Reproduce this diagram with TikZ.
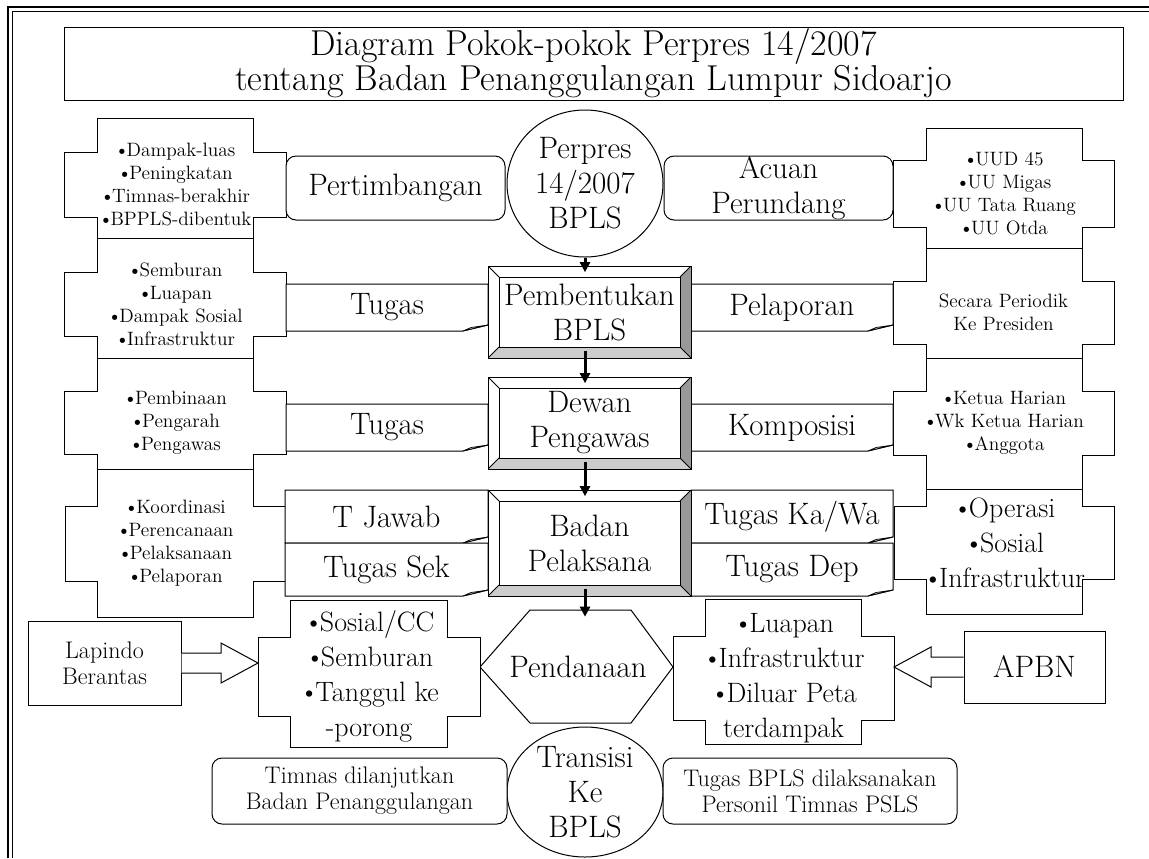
\documentclass[tikz,border=0pt]{standalone}
\usepackage{fontspec}
\usetikzlibrary{calc,arrows.meta,shapes.geometric}

\definecolor{BevelSide}{RGB}{153,153,153}
\definecolor{BevelBase}{RGB}{204,204,204}
\definecolor{FoldGray}{RGB}{190,190,190}

\newcommand{\fbig}{\fontsize{27}{26.25}\selectfont}
\newcommand{\fmid}{\fontsize{23.25}{26.25}\selectfont}
\newcommand{\fbul}{\fontsize{21}{26.25}\selectfont}
\newcommand{\fnote}{\fontsize{18}{19.5}\selectfont}
\newcommand{\fsmall}{\fontsize{14.5}{17.25}\selectfont}
\newcommand{\bul}{\textbullet\kern-0.14em}

% cross-shaped list box: name, wideL, narrowL, narrowR, wideR, top, wideT, wideB, bottom
\newcommand{\crossbox}[9]{%
  \draw[outline, fill=white] (#3,#6) -- (#4,#6) -- (#4,#7) -- (#5,#7) -- (#5,#8) -- (#4,#8)
    -- (#4,#9) -- (#3,#9) -- (#3,#8) -- (#2,#8) -- (#2,#7) -- (#3,#7) -- cycle;
  \coordinate (#1-c) at ({(#2+#5)/2},{(#7+#8)/2});
  \coordinate (#1-w) at (#2,{(#7+#8)/2});
  \coordinate (#1-e) at (#5,{(#7+#8)/2});}

% box with a folded lower right corner: name, x1, y1, x2, y2, text
\newcommand{\foldbox}[6]{%
  \draw[outline, fill=white] (#2,#3) -- (#4,#3) -- (#4,#5-6) -- (#4-25,#5) -- (#2,#5) -- cycle;
  \filldraw[outline, fill=FoldGray, line width=0.5pt] (#4-25,#5) -- (#4,#5-6) -- (#4-17,#5-3.5) -- cycle;
  \node[midtext] (#1) at ({(#2+#4)/2},{(#3+#5)/2}) {#6};}

\begin{document}
\begin{tikzpicture}[
  x=0.75pt, y=-0.75pt,
  outline/.style={draw=black, line width=0.75pt},
  plainbox/.style={rectangle, outline, fill=white, align=center, inner sep=0pt},
  rbox/.style={plainbox, rounded corners=7.5pt},
  oval/.style={ellipse, outline, fill=white, align=center, inner sep=0pt, font=\fmid},
  midtext/.style={align=center, inner sep=0pt, font=\fmid},
  listtext/.style={align=center, inner sep=0pt, font=\fsmall},
  bultext/.style={align=center, inner sep=0pt, font=\fbul},
  bevel/.style={plainbox, minimum width=152.25pt, font=\fmid,
    path picture={
      \coordinate (bsw) at (path picture bounding box.south west);
      \coordinate (bse) at (path picture bounding box.south east);
      \coordinate (bne) at (path picture bounding box.north east);
      \coordinate (bnw) at (path picture bounding box.north west);
      \fill[BevelSide] (bse) -- (bne) -- ($(bne)+(-11,11)$) -- ($(bse)+(-11,-11)$) -- cycle;
      \fill[BevelBase] (bsw) -- (bse) -- ($(bse)+(-11,-11)$) -- ($(bsw)+(11,-11)$) -- cycle;
      \draw[line width=0.75pt] ($(bsw)+(11,-11)$) rectangle ($(bne)+(-11,11)$);
      \draw[line width=0.75pt] (bsw) -- ++(11,-11) (bse) -- ++(-11,-11)
        (bne) -- ++(-11,11) (bnw) -- ++(11,11);
    }},
  flow/.style={-{Triangle[length=7.5pt,width=7.5pt]}, line width=2.25pt, shorten >=-5pt},
  blockarr/.style={outline, fill=white}
]
\useasboundingbox (0,0) rectangle (1149,858);

% page frame
\draw[line width=1.1pt] (8,858) -- (8,7) -- (1149,7);
\draw[line width=0.75pt] (12.5,858) -- (12.5,11.5) -- (1149,11.5);

\node[plainbox, minimum width=794.25pt, minimum height=54.75pt, font=\fbig] (judul) at (593.5,63.5)
  {Diagram Pokok-pokok Perpres 14/2007\\tentang Badan Penanggulangan Lumpur Sidoarjo};

% left column
\crossbox{dasar}{64}{97}{253}{286}{118}{152}{217}{238}
\crossbox{tugasa}{64}{97}{253}{286}{238}{272}{336}{358}
\crossbox{tugasb}{64}{97}{253}{286}{358}{391}{454}{469}
\crossbox{jawab}{65}{97}{253}{285}{469}{506}{581}{617}
\node[listtext] (dasarlist) at (dasar-c)
  {\bul Dampak-luas\\\bul Peningkatan\\\bul Timnas-berakhir\\\bul BPPLS-dibentuk};
\node[listtext] (tugasalist) at (tugasa-c)
  {\bul Semburan\\\bul Luapan\\\bul Dampak Sosial\\\bul Infrastruktur};
\node[listtext] (tugasblist) at (tugasb-c)
  {\bul Pembinaan\\\bul Pengarah\\\bul Pengawas};
\node[listtext] (jawablist) at (jawab-c)
  {\bul Koordinasi\\\bul Perencanaan\\\bul Pelaksanaan\\\bul Pelaporan};

% right column
\crossbox{acuan}{893}{926}{1082}{1114}{128}{160}{227}{248}
\crossbox{lapor}{893}{926}{1082}{1114}{248}{281}{344}{358}
\crossbox{komp}{893}{926}{1082}{1114}{358}{391}{455}{489}
\crossbox{kawa}{894}{926}{1082}{1114}{489}{506}{579}{614}
\node[listtext] (acuanlist) at (acuan-c)
  {\bul UUD 45\\\bul UU Migas\\\bul UU Tata Ruang\\\bul UU Otda};
\node[listtext] (laporlist) at (lapor-c) {Secara Periodik\\Ke Presiden};
\node[listtext] (komplist) at (komp-c)
  {\bul Ketua Harian\\\bul Wk Ketua Harian\\\bul Anggota};
\node[bultext] (kawalist) at (kawa-c)
  {\bul Operasi\\\bul Sosial\\\bul Infrastruktur};

% links between the lists and the centre
\node[rbox, minimum width=164.25pt, minimum height=48pt, font=\fmid] (pertimbangan) at (395.5,188) {Pertimbangan};
\node[rbox, minimum width=171.75pt, minimum height=48pt, font=\fmid] (perundang) at (778.5,188) {Acuan\\Perundang};
\foldbox{tugas1}{286}{284}{488}{331}{Tugas}
\foldbox{pelaporan}{691}{284}{893}{331}{Pelaporan}
\foldbox{tugas2}{286}{404}{488}{451}{Tugas}
\foldbox{komposisi}{691}{404}{893}{451}{Komposisi}
\foldbox{tjawab}{285}{490}{488}{543}{T Jawab}
\foldbox{tugassek}{285}{543}{488}{596}{Tugas Sek}
\foldbox{tugaskawa}{691}{490}{893}{543}{Tugas Ka/Wa}
\foldbox{tugasdep}{691}{543}{893}{596}{Tugas Dep}

% centre column
\node[oval, minimum width=117pt, minimum height=110.25pt] (perpres) at (585,183.5) {Perpres\\14/2007\\BPLS};
\node[bevel, minimum height=69pt] (pembentukan) at (589.5,312) {Pembentukan\\BPLS};
\node[bevel, minimum height=69pt] (dewan) at (589.5,423) {Dewan\\Pengawas};
\node[bevel, minimum height=79.5pt] (badan) at (589.5,543) {Badan\\Pelaksana};
\draw[outline, fill=white] (480,667) -- (530,610) coordinate (hexnw) -- (631,610) -- (673,667)
  -- (631,723) -- (530,723) -- cycle;
\node[midtext] (pendanaan) at (578,667) {Pendanaan};

\draw[flow] (perpres.south) -- (perpres.south |- pembentukan.north);
\draw[flow, shorten <=-6pt] (pembentukan.south -| perpres.south) -- (perpres.south |- dewan.north);
\draw[flow, shorten <=-6pt] (dewan.south -| perpres.south) -- (perpres.south |- badan.north);
\draw[flow, shorten <=-6pt] (badan.south -| perpres.south) -- (perpres.south |- hexnw);

% funding
\crossbox{sosial}{258}{290}{447}{480}{600}{637}{716}{747}
\crossbox{luapan}{673}{705}{861}{894}{599}{636}{720}{744}
\node[bultext] (sosiallist) at (sosial-c)
  {\bul Sosial/CC\\\bul Semburan\\\bul Tanggul ke\\-porong};
\node[bultext] (luapanlist) at (luapan-c)
  {\bul Luapan\\\bul Infrastruktur\\\bul Diluar Peta\\terdampak};
\node[plainbox, minimum width=114.75pt, minimum height=63pt, font=\fnote] (lapindo) at (104.5,663) {Lapindo\\Berantas};
\node[plainbox, minimum width=105.75pt, minimum height=54pt, font=\fmid] (apbn) at (1034.5,667) {APBN};
\coordinate (lapindo-tip) at (sosial-w |- lapindo.east);
\coordinate (apbn-tip) at (luapan-e |- apbn.west);
\draw[blockarr] ([yshift=7.5pt]lapindo.east) -| ([xshift=-27.75pt,yshift=15pt]lapindo-tip)
  -- (lapindo-tip) -- ([xshift=-27.75pt,yshift=-15pt]lapindo-tip) |- ([yshift=-7.5pt]lapindo.east);
\draw[blockarr] ([yshift=7.5pt]apbn.west) -| ([xshift=27.75pt,yshift=15pt]apbn-tip)
  -- (apbn-tip) -- ([xshift=27.75pt,yshift=-15pt]apbn-tip) |- ([yshift=-7.5pt]apbn.west);

% transition
\node[oval, minimum width=117pt, minimum height=97.5pt] (transisi) at (585,792) {Transisi\\Ke\\BPLS};
\node[rbox, minimum width=221.25pt, minimum height=49.5pt, font=\fnote] (timnas) at (359.5,791)
  {Timnas dilanjutkan\\Badan Penanggulangan};
\node[rbox, minimum width=220.5pt, minimum height=49.5pt, font=\fnote] (personil) at (810,791)
  {Tugas BPLS dilaksanakan\\Personil Timnas PSLS};
\end{tikzpicture}
\end{document}
